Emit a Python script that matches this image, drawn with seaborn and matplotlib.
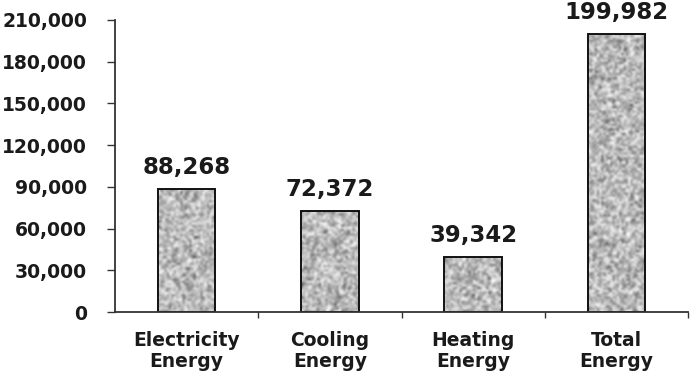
import numpy as np
import pandas as pd
import seaborn as sns
import matplotlib
matplotlib.use("Agg")
import matplotlib.pyplot as plt
from matplotlib.ticker import FuncFormatter, FixedLocator

categories = ["Electricity\nEnergy", "Cooling\nEnergy", "Heating\nEnergy", "Total\nEnergy"]
values = [88268, 72372, 39342, 199982]
y_ticks = [0, 30000, 60000, 90000, 120000, 150000, 180000, 210000]

df = pd.DataFrame({"cat": categories, "val": values})

sns.set_style("white")
plt.rcParams["font.family"] = ["DejaVu Sans"]
plt.rcParams["font.weight"] = "bold"

fig = plt.figure(figsize=(6.91, 3.71), dpi=100)
ax = fig.add_axes([115 / 691, 1 - 312 / 371, (688 - 115) / 691, (312 - 20) / 371])

sns.barplot(data=df, x="cat", y="val", width=0.4, color="#c0c0c0",
            edgecolor="#111111", linewidth=1.4, ax=ax)

# speckled granite-like fill (texture only)
rng = np.random.default_rng(3)
for bar in ax.patches:
    x0, y0 = bar.get_x(), bar.get_y()
    w, h = bar.get_width(), bar.get_height()
    rows = max(int(h / 210000 * 292 / 2.2), 2)
    noise = rng.normal(0, 1, (rows, 26))
    im = ax.imshow(noise, cmap="gray", vmin=-4.6, vmax=1.7, interpolation="bicubic",
                   extent=[x0, x0 + w, y0, y0 + h], aspect="auto", zorder=bar.get_zorder() + 0.1)
    im.set_clip_path(bar)
    bar.set_facecolor("none")
    bar.set_zorder(bar.get_zorder() + 0.2)

for i, v in enumerate(values):
    ax.annotate(f"{v:,}", (i, v), xytext=(0, 7.5), textcoords="offset points",
                ha="center", va="bottom", fontsize=16.5, fontweight="bold",
                color="#1a1a1a", annotation_clip=False)

ax.set_xlim(-0.5, 3.5)
ax.set_ylim(0, 210000)
ax.yaxis.set_major_locator(FixedLocator(y_ticks))
ax.yaxis.set_major_formatter(FuncFormatter(lambda v, p: f"{int(v):,}"))
ax.xaxis.set_minor_locator(FixedLocator([0.5, 1.5, 2.5, 3.5]))
ax.tick_params(axis="y", which="major", direction="out", length=6, width=1, color="#333333",
               labelsize=13.5, pad=14, left=True)
ax.tick_params(axis="x", which="major", length=0, labelsize=13.5, pad=14)
ax.tick_params(axis="x", which="minor", direction="out", length=4, width=1, color="#333333", bottom=True)
for lab in ax.get_xticklabels() + ax.get_yticklabels():
    lab.set_fontweight("bold")
    lab.set_color("#1a1a1a")
for lab in ax.get_xticklabels():
    lab.set_linespacing(1.1)

ax.set_xlabel("")
ax.set_ylabel("")
sns.despine(ax=ax)
for s in ["left", "bottom"]:
    ax.spines[s].set_color("#333333")
    ax.spines[s].set_linewidth(1.3)

fig.savefig("out.png", dpi=100)
